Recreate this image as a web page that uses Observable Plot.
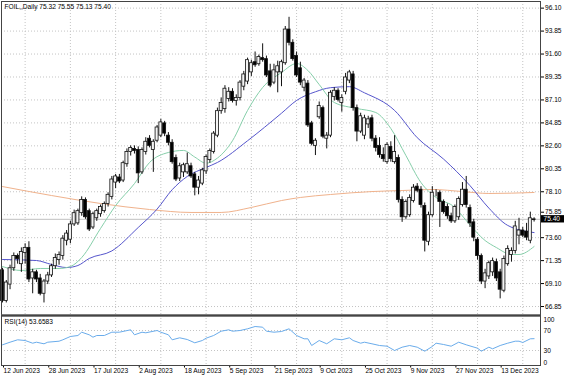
<!DOCTYPE html>
<html><head><meta charset="utf-8">
<script src="https://cdn.jsdelivr.net/npm/d3@7"></script>
<script src="https://cdn.jsdelivr.net/npm/@observablehq/plot@0.6"></script>
<style>
html,body{margin:0;padding:0;background:#fff;}
#chart{position:relative;width:564px;height:376px;overflow:hidden;background:#fff;}
#chart svg{position:absolute;left:0;}
</style></head><body><div id="chart"></div>
<script>
const symbolTitle = "FOIL,,Daily 75.32 75.55 75.13 75.40";
const rsiTitle = "RSI(14) 53.6583";
const dateLabels = ["12 Jun 2023","28 Jun 2023","17 Jul 2023","2 Aug 2023","18 Aug 2023","5 Sep 2023","21 Sep 2023","9 Oct 2023","25 Oct 2023","9 Nov 2023","27 Nov 2023","13 Dec 2023"];
const priceTicks = [96.10,93.85,91.60,89.35,87.10,84.85,82.60,80.35,78.10,75.85,73.60,71.35,69.10,66.85];
const lastPrice = 75.40;
const rsiTicks = [100,70,30,0];
const rsiLevels = [70,30];

const opens = [70.4,67.4,69.0,70.6,71.8,71.0,72.1,72.6,69.6,70.2,
 69.6,68.1,69.3,69.9,70.8,71.4,71.8,73.3,73.4,74.9,
 75.0,76.0,77.3,76.2,74.6,75.5,75.9,76.2,76.9,77.6,
 79.0,79.5,79.2,80.8,82.0,82.3,82.2,80.0,82.0,83.3,
 82.2,83.1,83.6,84.8,83.6,82.9,81.4,79.4,80.0,80.0,
 80.6,79.8,78.5,78.9,80.1,81.2,82.0,83.6,86.0,86.2,
 87.2,87.9,87.0,87.3,88.4,88.9,89.8,90.8,90.6,91.2,
 91.1,89.9,88.8,89.8,89.8,90.7,94.0,92.7,91.4,90.2,
 88.3,88.7,84.8,82.6,85.4,86.3,83.3,83.6,87.4,88.0,
 86.8,87.9,89.0,89.6,86.3,84.0,83.6,84.7,85.3,83.3,
 82.6,81.7,81.0,82.5,81.0,81.4,77.3,75.6,75.8,77.2,
 78.6,78.3,76.7,73.2,75.8,78.0,78.0,77.1,76.6,75.7,
 75.2,75.6,76.8,78.3,76.5,75.1,73.4,71.8,69.3,69.8,
 70.2,71.2,70.2,68.4,71.0,71.9,72.3,73.8,74.3,74.2,
 73.3,75.32];
const highs = [70.6,69.4,70.9,72.1,72.0,72.6,73.0,73.2,70.5,70.4,
 70.0,69.5,70.2,71.0,72.0,72.2,73.8,74.3,75.2,76.3,
 76.4,77.6,77.5,76.4,76.1,76.4,76.8,77.1,78.0,79.6,
 79.8,79.8,81.1,82.3,82.6,82.6,82.5,82.4,83.4,83.6,
 83.2,84.6,85.2,85.0,83.9,83.2,81.7,80.9,80.9,81.9,
 80.9,80.0,79.6,80.4,81.7,82.3,84.0,86.3,87.3,88.5,
 88.3,88.2,87.6,89.0,89.9,91.2,91.0,91.8,91.5,92.6,
 91.4,90.6,90.6,90.9,91.0,94.3,95.2,93.0,91.8,90.8,
 89.2,89.0,85.0,83.3,86.9,86.5,83.9,88.0,88.3,88.2,
 87.6,89.7,90.0,89.9,86.6,85.8,85.6,85.5,85.6,83.6,
 83.4,82.4,82.9,83.0,83.6,81.7,77.6,77.3,77.8,78.8,
 78.9,78.6,77.0,76.1,78.6,78.3,78.2,77.3,76.9,76.0,
 76.8,77.6,79.0,79.6,76.8,75.4,73.6,72.0,70.5,71.3,
 71.6,71.5,70.5,71.8,72.8,72.6,75.2,75.5,74.6,75.0,
 76.1,75.55];
const lows = [67.2,67.2,68.5,70.3,71.0,70.2,71.0,69.2,68.1,69.2,
 67.9,67.2,69.0,69.7,70.5,70.9,71.4,72.8,73.0,74.7,
 74.8,75.7,75.4,74.2,74.4,75.2,75.6,76.0,76.6,77.3,
 78.4,78.9,79.0,80.5,81.6,81.8,78.9,79.8,81.7,82.4,
 80.0,82.9,83.4,83.5,82.6,80.8,79.1,79.1,79.5,79.8,
 79.4,77.7,77.8,78.7,79.8,80.9,81.8,83.4,85.7,85.8,
 86.9,86.8,86.5,87.0,88.0,88.6,89.4,90.3,90.4,90.8,
 89.3,88.3,88.6,87.8,88.4,90.5,92.4,90.9,89.3,88.5,
 87.9,84.4,82.6,81.65,85.2,83.3,82.3,83.4,87.0,86.9,
 85.9,87.6,88.7,86.0,83.0,83.8,83.2,84.3,83.0,82.0,
 81.4,81.0,80.8,81.0,80.8,77.0,75.1,75.4,75.6,77.0,
 78.0,76.5,72.2,72.8,75.6,77.6,74.6,75.9,75.4,75.0,
 75.0,75.3,76.6,76.5,74.6,73.2,71.4,69.0,68.6,69.5,
 69.8,69.3,67.6,68.2,70.8,71.2,72.0,72.9,73.6,73.3,
 73.0,75.13];
const closes = [67.4,69.2,70.6,71.8,71.5,72.2,72.6,69.5,70.2,69.5,
 68.1,69.3,69.9,70.8,71.6,71.9,73.5,74.0,74.9,76.0,
 76.2,77.3,75.6,74.4,75.9,76.2,76.6,76.9,77.8,79.3,
 79.6,79.1,80.9,82.0,82.4,82.1,79.9,82.2,83.0,82.6,
 83.0,84.4,84.9,83.8,82.9,81.0,79.3,80.6,80.7,80.8,
 79.6,78.5,79.2,80.2,81.5,82.1,83.8,86.0,86.8,88.2,
 87.9,87.0,87.3,88.8,89.6,91.0,90.7,90.5,91.3,91.0,
 89.5,88.5,90.0,90.4,90.8,94.0,92.7,91.1,89.5,88.8,
 89.0,84.6,82.8,83.1,86.5,83.5,83.6,87.8,88.0,87.1,
 87.3,89.3,89.8,86.3,84.0,85.5,85.3,85.2,83.3,82.4,
 81.7,81.3,82.7,81.3,82.0,77.3,75.6,77.1,77.5,78.5,
 78.2,76.8,73.3,75.8,78.0,78.0,77.1,76.1,75.7,75.2,
 76.6,77.4,78.3,76.8,75.0,73.6,71.8,69.3,70.1,71.1,
 71.3,69.6,68.5,71.5,72.5,72.3,74.7,74.3,73.8,73.6,
 75.5,75.40];

// moving averages (bar index, value)
const slowIdx = [0,13,26,39,50,58,66,74,79,87,98,106,114,122,129,141];
const slowVal = [78.61,77.73,76.95,76.36,76.07,76.07,76.56,77.24,77.54,77.83,78.12,78.22,78.32,78.12,77.93,78.03];
const midIdx = [0,9,13,17,20,23,29,36,41,45,49,54,57,65,74,78,83,87,92,96,104,110,117,124,129,134,141];
const midVal = [71.46,71.36,70.97,70.67,70.87,71.56,72.3,74.6,76.4,78.3,79.6,80.48,80.97,83.1,85.8,87.05,87.9,88.3,88.4,87.8,86.07,83.4,81.3,78.7,76.5,74.8,74.1];
const fastIdx = [0,5,10,15,18,21,26,30,35,39,44,48,51,54,57,61,65,69,74,78,81,84,88,94,99,103,107,111,115,120,123,128,131,135,137,141];
const fastVal = [70.77,70.38,70.58,70.58,70.77,71.65,74.5,76.75,78.9,80.97,81.95,82.15,81.5,80.9,81.4,83.1,86.07,88.32,89.79,90.67,89.99,88.61,86.85,86.26,85.87,84.3,81.65,79.0,77.54,76.56,75.28,73.32,72.63,71.95,71.95,72.73];

const rsiIdx = [0,2,4,6,8,9,11,12,15,16,18,20,21,23,24,25,27,29,31,34,35,37,38,41,42,44,45,47,49,51,53,54,56,58,60,61,63,65,67,69,70,72,74,76,78,80,81,82,84,86,88,90,92,93,95,96,98,100,102,104,106,108,110,112,114,115,117,119,121,123,126,127,129,130,132,134,136,137,138,140,141];
const rsiVal = [41.4,46.6,51.4,50,44.6,46.6,43.4,46.6,48.6,51.4,58,60,66.6,61.4,56.6,60,60,66.6,66.6,71.4,61.4,66.6,65.4,70,66.6,61.4,51.4,55.4,52,45.4,50,54.6,60,68.6,71.4,68.6,70,73.4,78,76.6,68.6,66.6,68,73.4,60,53.4,53.4,40,50,43.4,53.4,51.4,55.4,50,44.6,46.6,43.4,40,38.6,30,36.6,40,36.6,28.6,38,44.6,42,38.6,46.6,41.4,34.6,28.6,36.6,33.4,40,44.6,48.6,48.6,46,53.4,53.66];

const bars = opens.map((o, i) => ({i, open: o, high: highs[i], low: lows[i], close: closes[i]}));
const xDomain = [-0.27, 142.7];
const FONT = "'Liberation Sans', Arial, sans-serif";
const FS = 6.6;
const gridXIdx = dateLabels.map((_, k) => k * 12 + 6);
const dateIdx = dateLabels.map((_, k) => k * 12);
const dotted = {stroke: "#c4c4c4", strokeOpacity: 1, strokeDasharray: "1,2"};
const nearLast = d => Math.abs(d - lastPrice) < 0.6;

const main = Plot.plot({
  width: 564, height: 316,
  marginLeft: 1, marginRight: 24, marginTop: 1, marginBottom: 1,
  style: {fontFamily: FONT, fontSize: FS + "px", background: "#fff", color: "#000", overflow: "visible"},
  x: {domain: xDomain, axis: null},
  y: {domain: [65.97, 96.75], axis: null},
  marks: [
    Plot.gridY(priceTicks, dotted),
    Plot.gridX(gridXIdx, dotted),
    Plot.ruleY([lastPrice], {stroke: "#c0c0c0", strokeWidth: 1}),
    Plot.line(slowVal, {x: slowIdx, y: slowVal, stroke: "#f0b28c", strokeWidth: 1, curve: "monotone-x"}),
    Plot.line(midVal, {x: midIdx, y: midVal, stroke: "#5555cc", strokeWidth: 1, curve: "monotone-x"}),
    Plot.line(fastVal, {x: fastIdx, y: fastVal, stroke: "#86cfaa", strokeWidth: 1, curve: "monotone-x"}),
    Plot.ruleX(bars, {x: "i", y1: "low", y2: "high", stroke: "#111", strokeWidth: 1}),
    Plot.rect(bars, {x1: d => d.i - 0.4, x2: d => d.i + 0.4, y1: "open", y2: "close",
      fill: d => d.close >= d.open ? "#f4f4f4" : "#000", stroke: "#111", strokeWidth: 0.8}),
    Plot.axisY(priceTicks.filter(d => !nearLast(d)), {anchor: "right", tickSize: 3, tickPadding: 1.5, tickFormat: d => d.toFixed(2),
      fontSize: FS, textAnchor: "start", stroke: "#000"}),
    Plot.axisY(priceTicks.filter(nearLast), {anchor: "right", tickSize: 3, tickPadding: 1.5, tickFormat: d => d.toFixed(2),
      fontSize: FS, textAnchor: "start", stroke: "#000", dy: -2.5}),
    Plot.rect([lastPrice], {x1: xDomain[1] + 0.15, x2: xDomain[1] + 6.5, y1: d => d - 0.36, y2: d => d + 0.36, fill: "#000"}),
    Plot.text([lastPrice], {x: xDomain[1], y: d => d, text: d => d.toFixed(2), fill: "#fff", textAnchor: "start", dx: 3, fontSize: FS}),
    Plot.frame({stroke: "#444"}),
    Plot.text([symbolTitle], {frameAnchor: "top-left", text: d => d, dx: 3, dy: 3, textAnchor: "start", lineAnchor: "top", fontSize: FS, fill: "#000"})
  ]
});

const rsiPlot = Plot.plot({
  width: 564, height: 62,
  marginLeft: 1, marginRight: 24, marginTop: 1, marginBottom: 11,
  style: {fontFamily: FONT, fontSize: FS + "px", background: "transparent", color: "#000", overflow: "visible"},
  x: {domain: xDomain, axis: null},
  y: {domain: [0, 100], axis: null},
  marks: [
    Plot.gridY(rsiLevels, dotted),
    Plot.gridX(gridXIdx, dotted),
    Plot.line(rsiVal, {x: rsiIdx, y: rsiVal, stroke: "#6aaceb", strokeWidth: 1}),
    Plot.axisX(dateIdx, {anchor: "bottom", tickSize: 2.5, tickPadding: 0, tickFormat: d => dateLabels[Math.round(d / 12)],
      textAnchor: "start", dx: 1, fontSize: FS, stroke: "#000"}),
    Plot.ruleY([100], {stroke: "#555", strokeWidth: 2.5}),
    Plot.frame({stroke: "#444"}),
    Plot.text([rsiTitle], {frameAnchor: "top-left", text: d => d, dx: 3, dy: 4, textAnchor: "start", lineAnchor: "top", fontSize: FS}),
    Plot.text(rsiTicks.filter(d => d === 100), {x: xDomain[1], y: d => d, text: d => String(d), dx: 3, dy: 4, textAnchor: "start", fontSize: FS}),
    Plot.text(rsiTicks.filter(d => d !== 100 && d !== 0), {x: xDomain[1], y: d => d, text: d => String(d), dx: 3, textAnchor: "start", fontSize: FS}),
    Plot.text(rsiTicks.filter(d => d === 0), {x: xDomain[1], y: d => d, text: d => String(d), dx: 3, dy: -3, textAnchor: "start", fontSize: FS})
  ]
});

const host = document.getElementById("chart");
main.style.top = "0px";
rsiPlot.style.top = "314px";
host.append(main, rsiPlot);
</script>
</body></html>
